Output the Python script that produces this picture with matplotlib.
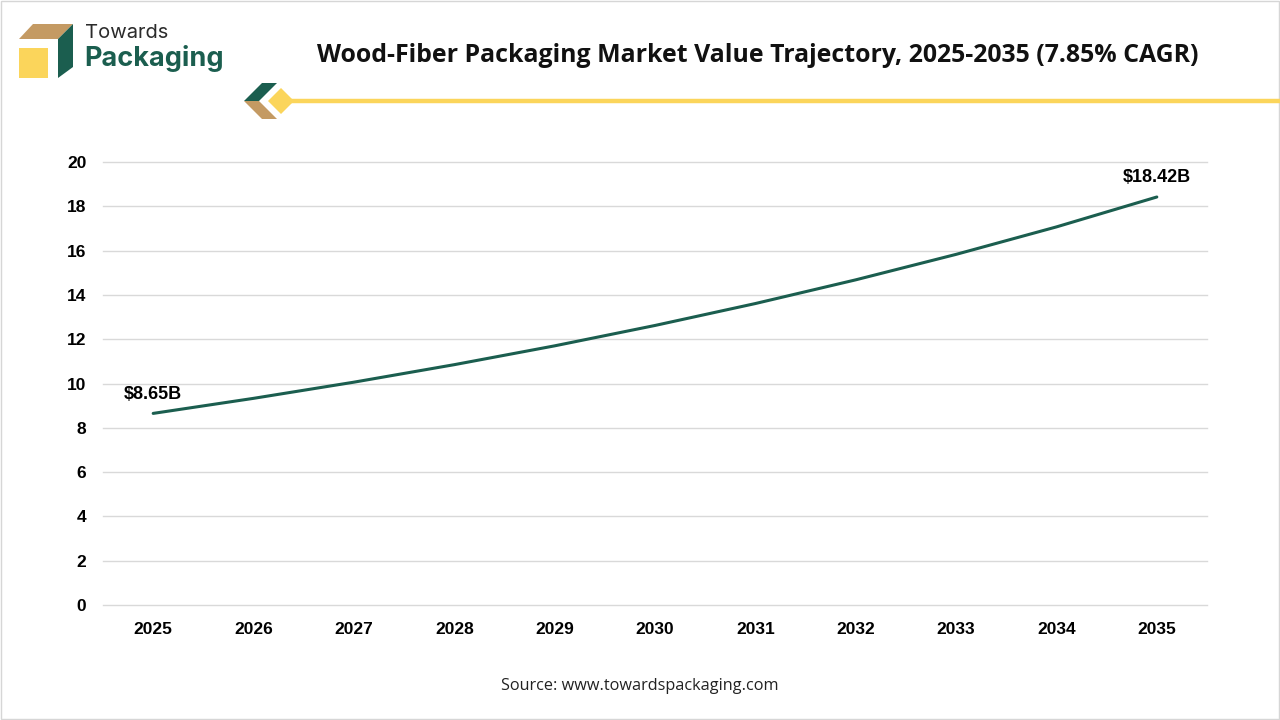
import matplotlib.pyplot as plt
from matplotlib.patches import Polygon, Rectangle

# data
years = ['2025', '2026', '2027', '2028', '2029', '2030', '2031', '2032', '2033', '2034', '2035']
market_value = [8.65, 9.33, 10.06, 10.85, 11.70, 12.62, 13.61, 14.68, 15.83, 17.07, 18.42]
y_ticks = [0, 2, 4, 6, 8, 10, 12, 14, 16, 18, 20]

title = 'Wood-Fiber Packaging Market Value Trajectory, 2025-2035 (7.85% CAGR)'
source = 'Source: www.towardspackaging.com'

green = '#1b5e4f'
tan = '#c49a63'
yellow = '#fbd55b'

W, H = 1280, 720
fig = plt.figure(figsize=(W / 100, H / 100), dpi=100)

# background layer in pixel coordinates for logo and decoration
bg = fig.add_axes([0, 0, 1, 1], zorder=0)
bg.set_xlim(0, W)
bg.set_ylim(H, 0)
bg.axis('off')
bg.add_patch(Rectangle((1, 1), W - 2, H - 2, fill=False, ec='#d6d6d6', lw=1))

# logo
bg.add_patch(Polygon([(33, 24), (73, 24), (58, 39), (19, 39)], color=tan, lw=0))
bg.add_patch(Rectangle((19, 48), 29, 30, color=yellow, lw=0))
bg.add_patch(Polygon([(58, 39), (73, 24), (73, 67), (58, 78)], color=green, lw=0))
bg.text(85, 33, 'Towards', fontsize=14.5, color='#2b2b2b', family='Inter', va='center', ha='left')
bg.text(84, 58, 'Packaging', fontsize=19.5, color=green, family='Inter', weight='bold',
        va='center', ha='left')

# decoration under title
bg.plot([290, W], [101, 101], color=yellow, lw=3.2, solid_capstyle='butt')
bg.add_patch(Polygon([(262, 83), (277, 83), (259, 101), (244, 101)], color=green, lw=0))
bg.add_patch(Polygon([(244, 101), (259, 101), (277, 119), (262, 119)], color=tan, lw=0))
bg.add_patch(Polygon([(281, 88), (294, 101), (281, 114), (268, 101)], color=yellow, lw=0))

bg.text(758, 55, title, fontsize=17.9, weight='bold', family='Open Sans',
        ha='center', va='center', color='#111111')
bg.text(640, 686, source, fontsize=11.7, family='Open Sans', ha='center', va='center',
        color='#222222')

# main chart
ax = fig.add_axes([103 / W, 1 - 605 / H, (1207 - 103) / W, (605 - 162) / H], zorder=1)
ax.patch.set_alpha(0)
x = list(range(len(years)))
ax.plot(x, market_value, color=green, lw=2.2, solid_capstyle='round')
ax.set_xlim(-0.5, len(years) - 0.5)
ax.set_ylim(0, 20)
ax.set_yticks(y_ticks)
ax.set_xticks(x)
ax.set_xticklabels(years)
ax.grid(axis='y', color='#d9d9d9', lw=1)
for gl in ax.get_ygridlines():
    gl.set_clip_on(False)
ax.set_axisbelow(True)
for s in ax.spines.values():
    s.set_visible(False)
ax.tick_params(length=0, labelsize=12.5)
for lab in ax.get_xticklabels() + ax.get_yticklabels():
    lab.set_fontweight('bold')
    lab.set_family('Liberation Sans')
ax.tick_params(axis='x', pad=12)
ax.tick_params(axis='y', pad=12)

for i in (0, -1):
    ax.annotate(f'${market_value[i]:.2f}B', (x[i], market_value[i]), xytext=(0, 19),
                textcoords='offset pixels', ha='center', va='center', fontsize=13,
                weight='bold', family='Liberation Sans')

fig.savefig('out.png', dpi=100)
